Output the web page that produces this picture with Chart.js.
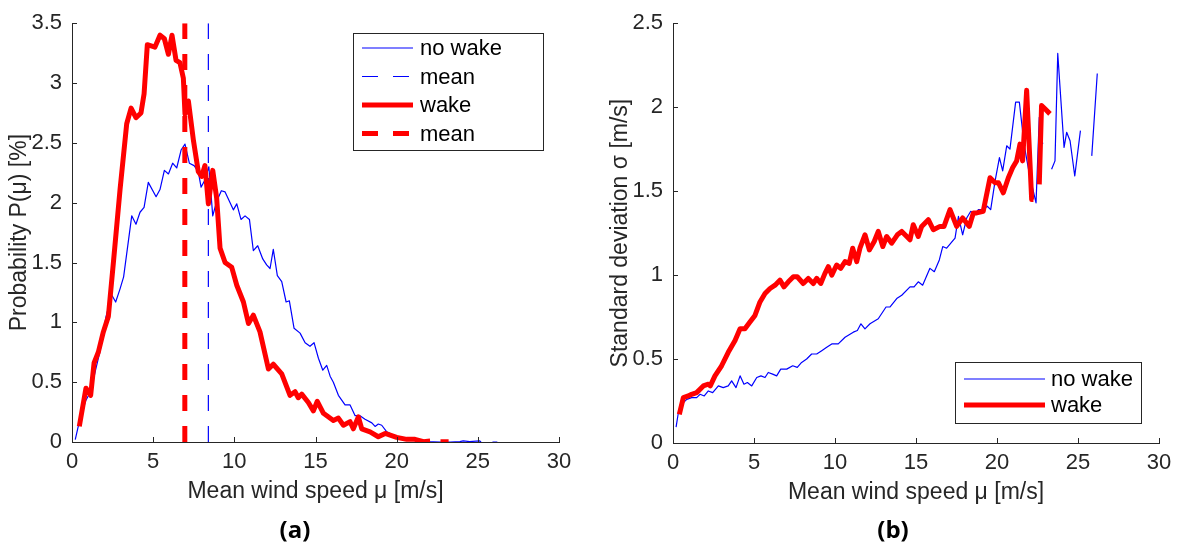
<!DOCTYPE html>
<html>
<head>
<meta charset="utf-8">
<script src="https://cdn.jsdelivr.net/npm/chart.js@4.4.0/dist/chart.umd.min.js"></script>
<style>
  body { margin: 0; background: #fff; width: 1180px; height: 552px; overflow: hidden; position: relative; }
  .panel { position: absolute; top: 0; width: 590px; height: 552px; }
  .tag { position: absolute; top: 512px; width: 100px; text-align: center; font: bold 24px "Open Sans", "DejaVu Sans", sans-serif; color: #000; }
</style>
</head>
<body>
<div class="panel" style="left:0"><canvas id="probChart" width="590" height="552"></canvas></div>
<div class="panel" style="left:590px"><canvas id="stdChart" width="590" height="552"></canvas></div>
<div class="tag" style="left:245px">(a)</div>
<div class="tag" style="left:843px">(b)</div>
<script>
// (a) probability of mean wind speed [%]
const probNoWakeX = [0.2, 0.5, 0.86, 1.15, 1.45, 1.73, 2.1, 2.44, 2.69, 2.96, 3.18, 3.68, 3.94, 4.19, 4.44, 4.7, 5.18, 5.42, 5.69, 5.94, 6.2, 6.45, 6.72, 6.96, 7.23, 7.52, 7.78, 7.95, 8.19, 8.43, 8.67, 8.91, 9.2, 9.43, 9.94, 10.15, 10.41, 10.66, 10.93, 11.17, 11.44, 11.75, 11.99, 12.2, 12.4, 12.65, 12.92, 13.19, 13.39, 13.68, 14.05, 14.36, 14.66, 14.91, 15.18, 15.45, 15.69, 15.9, 16.1, 16.41, 16.82, 17.13, 17.44, 17.74, 18.05, 18.47, 18.67, 18.87, 19.08, 19.39, 20.0, 20.83, 21.85, 22.7, 23.3, 23.9, 24.1, 24.5, 25.1, 25.2, 25.5, 25.9, 26.2];
const probNoWakeY = [0.02, 0.2, 0.35, 0.42, 0.6, 0.76, 1.05, 1.23, 1.17, 1.28, 1.38, 1.89, 1.82, 1.92, 1.96, 2.17, 2.05, 2.11, 2.27, 2.24, 2.33, 2.29, 2.44, 2.49, 2.33, 2.31, 2.26, 2.13, 2.19, 2.3, 1.89, 2.01, 2.1, 2.09, 1.94, 1.99, 1.86, 1.89, 1.86, 1.6, 1.64, 1.53, 1.48, 1.45, 1.61, 1.39, 1.34, 1.17, 1.18, 0.95, 0.91, 0.83, 0.8, 0.83, 0.7, 0.6, 0.64, 0.55, 0.5, 0.39, 0.31, 0.31, 0.22, 0.22, 0.19, 0.16, 0.13, 0.15, 0.14, 0.085, 0.044, 0.016, 0.003, 0, 0, 0.003, 0.01, 0.003, 0.01, 0, null, 0, 0];
const probWakeX = [0.45, 0.86, 1.15, 1.36, 1.62, 1.93, 2.24, 2.55, 2.96, 3.37, 3.64, 3.94, 4.25, 4.44, 4.64, 5.11, 5.42, 5.69, 5.94, 6.16, 6.41, 6.65, 6.86, 6.96, 7.17, 7.48, 7.78, 7.99, 8.19, 8.4, 8.67, 8.91, 9.12, 9.43, 9.84, 10.15, 10.56, 10.87, 11.17, 11.58, 12.1, 12.4, 12.92, 13.43, 13.74, 13.94, 14.15, 14.56, 14.87, 15.11, 15.49, 16.1, 16.41, 16.72, 17.13, 17.33, 17.64, 17.85, 18.36, 18.87, 19.29, 20.0, 20.62, 21.13, 21.65, 22.06, 22.4, 22.7, 23.2];
const probWakeY = [0.13, 0.45, 0.39, 0.66, 0.75, 0.92, 1.05, 1.5, 2.11, 2.66, 2.79, 2.71, 2.75, 2.91, 3.32, 3.3, 3.4, 3.37, 3.24, 3.4, 3.19, 3.17, 3.04, 2.74, 2.85, 2.52, 2.26, 2.22, 2.31, 1.99, 2.27, 2.04, 1.62, 1.5, 1.46, 1.31, 1.17, 0.99, 1.06, 0.92, 0.61, 0.65, 0.57, 0.39, 0.42, 0.37, 0.4, 0.33, 0.26, 0.34, 0.24, 0.18, 0.2, 0.14, 0.17, 0.11, 0.21, 0.11, 0.085, 0.044, 0.072, 0.039, 0.022, 0.022, 0.003, 0.008, null, 0.003, 0.003];
const meanNoWake = 8.4;
const meanWake = 6.95;

// (b) standard deviation vs mean wind speed [m/s]
const stdNoWakeX = [0.19, 0.33, 0.54, 0.85, 1.15, 1.46, 1.67, 1.93, 2.18, 2.45, 2.8, 3.1, 3.41, 3.62, 3.89, 4.14, 4.38, 4.59, 4.86, 5.17, 5.43, 5.68, 5.88, 6.15, 6.4, 6.65, 7.02, 7.39, 7.67, 7.94, 8.25, 8.56, 8.87, 9.18, 9.49, 9.8, 10.2, 10.62, 11.13, 11.38, 11.6, 11.85, 12.16, 12.67, 13.15, 13.4, 13.81, 14.12, 14.63, 14.88, 15.14, 15.41, 15.86, 16.13, 16.44, 16.65, 16.89, 17.41, 17.62, 17.88, 18.13, 18.38, 18.64, 18.85, 19.15, 19.4, 19.61, 19.88, 20.15, 20.35, 20.6, 20.8, 21.15, 21.38, 21.67, 22.0, 22.41, 22.61, 22.82, 23.1, 23.37, 23.58, 23.75, 24.14, 24.3, 24.51, 24.8, 25.15, 25.5, 25.85, 26.19];
const stdNoWakeY = [0.094, 0.18, 0.23, 0.26, 0.27, 0.27, 0.29, 0.28, 0.31, 0.3, 0.34, 0.33, 0.34, 0.37, 0.33, 0.4, 0.35, 0.36, 0.34, 0.39, 0.4, 0.39, 0.42, 0.41, 0.4, 0.44, 0.44, 0.46, 0.45, 0.48, 0.5, 0.53, 0.53, 0.55, 0.57, 0.59, 0.59, 0.63, 0.66, 0.67, 0.71, 0.68, 0.71, 0.74, 0.81, 0.81, 0.86, 0.88, 0.93, 0.93, 0.96, 0.94, 1.04, 1.02, 1.09, 1.17, 1.16, 1.22, 1.35, 1.24, 1.34, 1.38, 1.36, 1.39, 1.39, 1.41, 1.39, 1.56, 1.7, 1.62, 1.77, 1.75, 2.03, 2.03, 1.78, 1.6, 1.43, 1.94, 1.78, null, 1.63, 1.68, 2.32, 1.76, 1.85, 1.8, 1.59, 1.86, null, 1.71, 2.2];
const stdWakeX = [0.39, 0.64, 0.94, 1.15, 1.46, 1.87, 2.18, 2.3, 2.59, 3.0, 3.41, 3.83, 4.14, 4.44, 4.75, 5.06, 5.37, 5.68, 5.99, 6.3, 6.6, 6.85, 7.12, 7.43, 7.67, 8.04, 8.35, 8.66, 8.87, 9.12, 9.38, 9.59, 9.8, 10.1, 10.35, 10.62, 10.88, 11.09, 11.34, 11.54, 11.85, 12.12, 12.42, 12.67, 12.95, 13.19, 13.5, 13.85, 14.12, 14.43, 14.63, 14.83, 15.14, 15.35, 15.76, 16.07, 16.48, 16.73, 17.1, 17.51, 17.88, 18.29, 18.54, 18.75, 19.15, 19.57, 19.88, 20.09, 20.39, 20.7, 20.97, 21.21, 21.42, 21.58, 21.83, 22.14, 22.25, 22.45, 22.61, 22.75, 22.96, 23.27];
const stdWakeY = [0.17, 0.27, 0.28, 0.29, 0.3, 0.34, 0.35, 0.34, 0.4, 0.46, 0.54, 0.61, 0.68, 0.68, 0.72, 0.76, 0.84, 0.89, 0.92, 0.94, 0.97, 0.93, 0.96, 0.99, 0.99, 0.95, 0.98, 0.95, 0.98, 0.95, 1.01, 1.05, 1.0, 1.06, 1.04, 1.08, 1.07, 1.16, 1.08, 1.16, 1.24, 1.15, 1.2, 1.26, 1.17, 1.23, 1.19, 1.24, 1.26, 1.23, 1.21, 1.3, 1.23, 1.29, 1.33, 1.27, 1.29, 1.29, 1.39, 1.29, 1.34, 1.29, 1.37, 1.37, 1.38, 1.58, 1.55, 1.55, 1.49, 1.58, 1.64, 1.68, 1.78, 1.68, 2.1, 1.45, 1.45, null, 1.54, 2.01, 1.99, 1.96];

const xTicks = [0, 5, 10, 15, 20, 25, 30];
const probTicks = [0, 0.5, 1, 1.5, 2, 2.5, 3, 3.5];
const stdTicks = [0, 0.5, 1, 1.5, 2, 2.5];

const BLUE = "#0000ff";
const RED = "#ff0000";
const AXIS = "#262626";
const FONT = "'Liberation Sans', Arial, sans-serif";

function pts(xs, ys) {
  return xs.map((x, i) => ({ x: x, y: ys[i] }));
}

// matlab style tick marks pointing into the axes
const inwardTicks = {
  id: "inwardTicks",
  afterDraw(chart) {
    const c = chart.ctx, a = chart.chartArea;
    c.save();
    c.strokeStyle = AXIS;
    c.lineWidth = 1;
    c.beginPath();
    chart.scales.x.ticks.forEach(t => {
      const px = Math.round(chart.scales.x.getPixelForValue(t.value)) + 0.5;
      c.moveTo(px, a.bottom);
      c.lineTo(px, a.bottom - 5);
    });
    chart.scales.y.ticks.forEach(t => {
      const py = Math.round(chart.scales.y.getPixelForValue(t.value)) + 0.5;
      c.moveTo(a.left, py);
      c.lineTo(a.left + 5, py);
    });
    c.stroke();
    c.restore();
  }
};

// boxed legend inside the axes
const boxLegend = {
  id: "boxLegend",
  afterDraw(chart, args, opts) {
    const c = chart.ctx;
    c.save();
    c.fillStyle = "#fff";
    c.fillRect(opts.x, opts.y, opts.w, opts.h);
    c.strokeStyle = AXIS;
    c.lineWidth = 1;
    c.strokeRect(opts.x + 0.5, opts.y + 0.5, opts.w, opts.h);
    c.font = "22px " + FONT;
    c.textBaseline = "middle";
    c.fillStyle = "#000";
    opts.items.forEach((it, i) => {
      const ds = chart.data.datasets[it];
      const y = opts.rowY + i * opts.rowH;
      c.strokeStyle = ds.borderColor;
      c.lineWidth = ds.borderWidth;
      c.setLineDash(ds.borderDash || []);
      c.beginPath();
      c.moveTo(opts.lineX0, y);
      c.lineTo(opts.lineX1, y);
      c.stroke();
      c.setLineDash([]);
      c.fillText(ds.label, opts.textX, y + 1);
    });
    c.restore();
  }
};

function axes(yMax, yTicks, yTitle, yWidth, yTitlePad) {
  return {
    x: {
      type: "linear", min: 0, max: 30,
      afterBuildTicks: s => { s.ticks = xTicks.map(v => ({ value: v })); },
      afterFit: s => { s.height = 66; },
      grid: { drawOnChartArea: false, drawTicks: false },
      border: { color: AXIS, width: 1 },
      ticks: { color: AXIS, padding: 7, font: { family: FONT, size: 22 }, callback: v => String(v) },
      title: { display: true, text: "Mean wind speed μ [m/s]", color: AXIS, padding: { top: 0, bottom: 3 }, font: { family: FONT, size: 23 } }
    },
    y: {
      type: "linear", min: 0, max: yMax,
      afterBuildTicks: s => { s.ticks = yTicks.map(v => ({ value: v })); },
      afterFit: s => { s.width = yWidth; },
      grid: { drawOnChartArea: false, drawTicks: false },
      border: { color: AXIS, width: 1 },
      ticks: { color: AXIS, padding: 10, font: { family: FONT, size: 22 }, callback: v => String(v) },
      title: { display: true, text: yTitle, color: AXIS, padding: { top: yTitlePad, bottom: 0 }, font: { family: FONT, size: 23 } }
    }
  };
}

const common = {
  responsive: false,
  animation: false,
  events: [],
  elements: { point: { radius: 0 }, line: { tension: 0, borderCapStyle: "butt", borderJoinStyle: "round" } },
  plugins: { legend: { display: false }, tooltip: { enabled: false } }
};

new Chart(document.getElementById("probChart").getContext("2d"), {
  type: "scatter",
  data: {
    datasets: [
      { label: "no wake", data: pts(probNoWakeX, probNoWakeY), showLine: true, borderColor: BLUE, borderWidth: 1.2, order: 4 },
      { label: "mean", data: [{ x: meanNoWake, y: 0 }, { x: meanNoWake, y: 3.5 }], showLine: true, borderColor: BLUE, borderWidth: 1.2, borderDash: [16, 15], order: 3 },
      { label: "wake", data: pts(probWakeX, probWakeY), showLine: true, borderColor: RED, borderWidth: 5, order: 2 },
      { label: "mean", data: [{ x: meanWake, y: 0 }, { x: meanWake, y: 3.5 }], showLine: true, borderColor: RED, borderWidth: 5, borderDash: [16, 15], order: 1 }
    ]
  },
  options: Object.assign({}, common, {
    layout: { padding: { top: 18, left: 0, right: 31, bottom: 44 } },
    scales: axes(3.5, probTicks, "Probability P(μ) [%]", 72, 6),
    plugins: Object.assign({}, common.plugins, {
      boxLegend: { x: 353, y: 33, w: 190, h: 117, lineX0: 362, lineX1: 413, textX: 420, rowY: 48, rowH: 28.5, items: [0, 1, 2, 3] }
    })
  }),
  plugins: [inwardTicks, boxLegend]
});

new Chart(document.getElementById("stdChart").getContext("2d"), {
  type: "scatter",
  data: {
    datasets: [
      { label: "no wake", data: pts(stdNoWakeX, stdNoWakeY), showLine: true, borderColor: BLUE, borderWidth: 1.2, order: 2 },
      { label: "wake", data: pts(stdWakeX, stdWakeY), showLine: true, borderColor: RED, borderWidth: 5, order: 1 }
    ]
  },
  options: Object.assign({}, common, {
    layout: { padding: { top: 17, left: 0, right: 21, bottom: 43 } },
    scales: axes(2.5, stdTicks, "Standard deviation σ [m/s]", 83, 17),
    plugins: Object.assign({}, common.plugins, {
      boxLegend: { x: 365, y: 362, w: 186, h: 61, lineX0: 374, lineX1: 455, textX: 461, rowY: 379, rowH: 26, items: [0, 1] }
    })
  }),
  plugins: [inwardTicks, boxLegend]
});
</script>
</body>
</html>
